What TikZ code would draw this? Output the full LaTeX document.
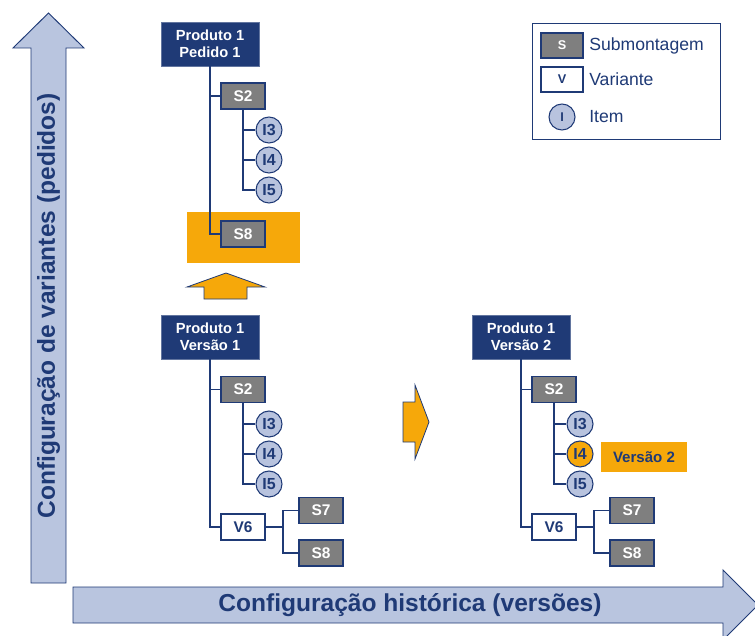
\documentclass[tikz,border=0pt]{standalone}
\usepackage{fontspec}
\setmainfont{Liberation Sans}
\definecolor{navy}{HTML}{1F3A76}
\definecolor{subgray}{HTML}{7F7F7F}
\definecolor{itemblue}{HTML}{B8C3DE}
\definecolor{arrowblue}{HTML}{B9C5DF}
\definecolor{amber}{HTML}{F6A80A}
\tikzset{
  prod/.style={rectangle, fill=navy, draw=navy!70, line width=0.6pt, text=white,
    font=\fontsize{11}{12.5}\selectfont\bfseries, align=center,
    minimum width=73.5pt, minimum height=33pt, inner sep=0pt},
  sub/.style={rectangle, fill=subgray, draw=navy, line width=0.8pt, text=white,
    font=\fontsize{11.6}{12}\selectfont\bfseries,
    minimum width=33pt, minimum height=19.5pt, inner sep=0pt},
  var/.style={sub, fill=white, text=navy},
  item/.style={circle, fill=itemblue, draw=navy, line width=0.8pt, text=navy,
    font=\fontsize{12}{13}\selectfont\bfseries, minimum size=19.5pt, inner sep=0pt},
  conn/.style={draw=navy, line width=1pt},
  bigarrow/.style={fill=arrowblue, draw=navy, line width=0.7pt},
  smallarrow/.style={fill=amber, draw=navy, line width=0.6pt},
  axislabel/.style={text=navy, font=\fontsize{18.4}{20}\selectfont\bfseries},
  legendtext/.style={text=navy, font=\fontsize{13.2}{15}\selectfont, anchor=west, inner sep=0pt},
  legendkey/.style={font=\fontsize{9.5}{10}\selectfont\bfseries}
}
\begin{document}
\begin{tikzpicture}[x=0.75pt, y=-0.75pt]
\clip (0,0) rectangle (755,635);
\fill[white] (0,0) rectangle (755,635);

% axis arrows
\draw[bigarrow] (31,583) -- (31,48) -- (13,48) -- (48.5,13) -- (84,48) -- (66,48) -- (66,583) -- cycle;
\node[axislabel, rotate=90] (yaxis) at (48.5,306) {Configuração de variantes (pedidos)};
\draw[bigarrow] (73,587) -- (723,587) -- (723,570) -- (758,605) -- (723,640) -- (723,623) -- (73,623) -- cycle;
\node[axislabel] (xaxis) at (410,605) {Configuração histórica (versões)};

% legend
\draw[navy, line width=0.6pt] (532,23) rectangle (720,139);
\node[sub, legendkey, minimum width=31.5pt, minimum height=18.75pt] (lgS) at (562,45.5) {S};
\node[var, legendkey, minimum width=31.5pt, minimum height=18.75pt] (lgV) at (562,79.5) {V};
\node[item, legendkey] (lgI) at (562,117) {I};
\node[legendtext] (lgSt) at (589,45.5) {Submontagem};
\node[legendtext] (lgVt) at (589,79.5) {Variante};
\node[legendtext] (lgIt) at (589,117) {Item};

% order configuration (top)
\fill[amber] (187,212) rectangle (300,263);
\node[prod] (pA) at (210,44) {Produto 1\\Pedido 1};
\node[sub] (sA2) at (243,96) {S2};
\node[item] (iA3) at (269,130) {I3};
\node[item] (iA4) at (269,160) {I4};
\node[item] (iA5) at (269,190) {I5};
\node[sub] (sA8) at (243,234) {S8};
\draw[conn] (pA.south) |- (sA2.west);
\draw[conn] (pA.south) |- (sA8.west);
\draw[conn] (sA2.south) |- (iA3.west);
\draw[conn] (sA2.south) |- (iA4.west);
\draw[conn] (sA2.south) |- (iA5.west);
\draw[smallarrow] (226,273) -- (265,287) -- (247,287) -- (247,299) -- (204,299) -- (204,287) -- (187,287) -- cycle;

% version 1
\node[prod] (pB) at (210,337) {Produto 1\\Versão 1};
\node[sub] (sB2) at (243,389.5) {S2};
\node[item] (iB3) at (269,424) {I3};
\node[item] (iB4) at (269,454) {I4};
\node[item] (iB5) at (269,484) {I5};
\node[var] (vB6) at (243,527) {V6};
\node[sub] (sB7) at (321,510.5) {S7};
\node[sub] (sB8) at (321,553) {S8};
\coordinate (fB) at (283,527);
\draw[conn] (pB.south) |- (sB2.west);
\draw[conn] (pB.south) |- (vB6.west);
\draw[conn] (sB2.south) |- (iB3.west);
\draw[conn] (sB2.south) |- (iB4.west);
\draw[conn] (sB2.south) |- (iB5.west);
\draw[conn] (vB6.east) -- (fB);
\draw[conn] (sB7.west) -| (fB) |- (sB8.west);

% step to next version
\draw[smallarrow] (403,402) -- (415,402) -- (415,385) -- (429,422) -- (415,459) -- (415,442) -- (403,442) -- cycle;

% version 2
\node[prod] (pC) at (521,337) {Produto 1\\Versão 2};
\node[sub] (sC2) at (554,389.5) {S2};
\node[item] (iC3) at (580,424) {I3};
\node[item, fill=amber] (iC4) at (580,454) {I4};
\node[item] (iC5) at (580,484) {I5};
\node[var] (vC6) at (554,527) {V6};
\node[sub] (sC7) at (632,510.5) {S7};
\node[sub] (sC8) at (632,553) {S8};
\coordinate (fC) at (594,527);
\draw[conn] (pC.south) |- (sC2.west);
\draw[conn] (pC.south) |- (vC6.west);
\draw[conn] (sC2.south) |- (iC3.west);
\draw[conn] (sC2.south) |- (iC4.west);
\draw[conn] (sC2.south) |- (iC5.west);
\draw[conn] (vC6.east) -- (fC);
\draw[conn] (sC7.west) -| (fC) |- (sC8.west);
\node[fill=amber, text=navy, font=\fontsize{11.3}{13}\selectfont\bfseries,
  minimum width=64.5pt, minimum height=22.5pt, inner sep=0pt] (verTag) at (644,457) {Versão 2};
\end{tikzpicture}
\end{document}
